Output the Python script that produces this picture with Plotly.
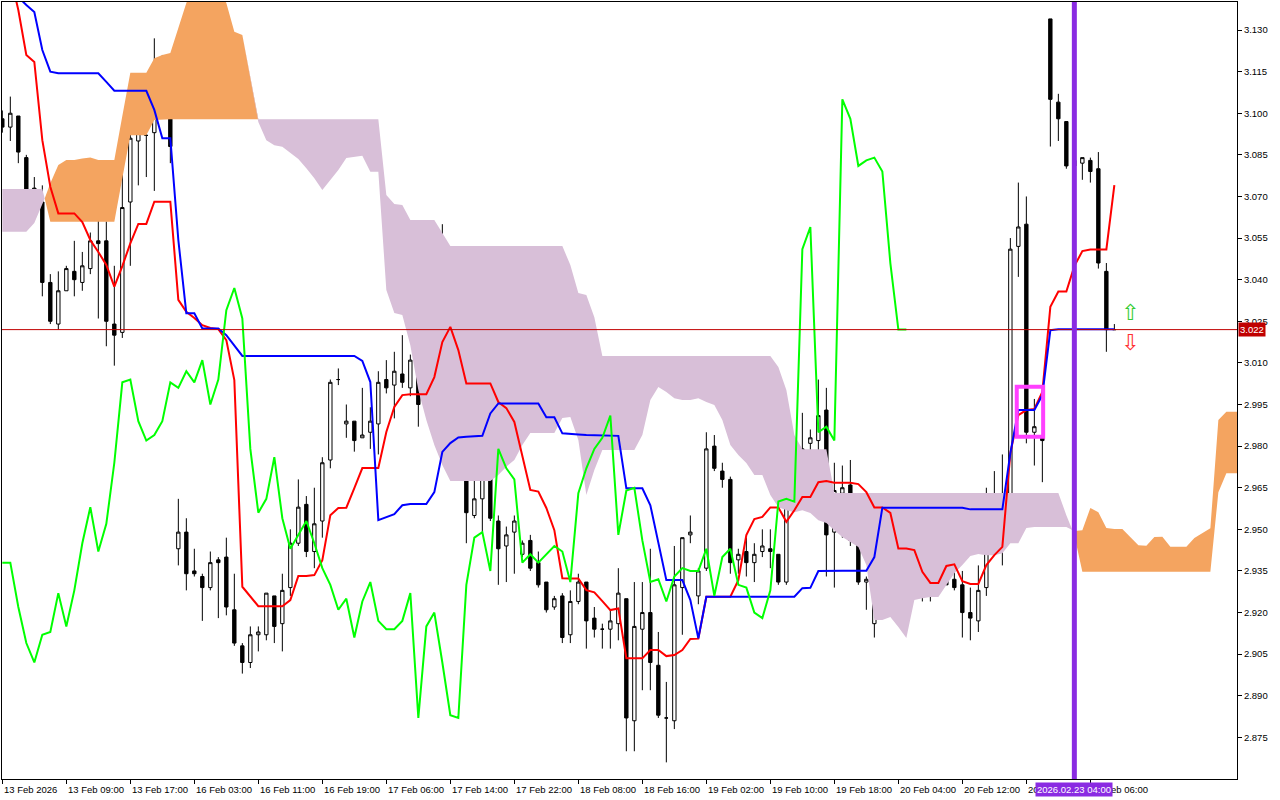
import plotly.graph_objects as go

# ---------------- data (H1 bars) ----------------
bar_open = [3.098,3.095,3.099,3.084,3.073,3.068,3.039,3.024,3.036,3.043,
            3.039,3.044,3.054,3.054,3.024,3.021,3.068,3.090,3.092,3.093,
            3.109,3.106,2.943,2.949,2.935,2.933,2.929,2.939,2.940,2.921,
            2.908,2.902,2.912,2.912,2.926,2.916,2.929,2.945,2.959,2.942,
            2.953,2.975,3.004,2.988,2.989,2.983,2.985,2.988,3.004,3.002,
            3.006,3.001,3.009,2.996,3.005,3.030,3.038,3.025,2.977,2.955,
            2.961,2.977,2.953,2.944,2.949,2.941,2.946,2.938,2.931,2.922,
            2.926,2.912,2.924,2.931,2.918,2.914,2.914,2.916,2.925,2.881,
            2.914,2.920,2.901,2.882,2.881,2.929,2.948,2.926,2.936,2.980,
            2.971,2.968,2.939,2.942,2.938,2.942,2.943,2.941,2.931,2.964,
            2.972,2.981,2.982,2.993,2.949,2.963,2.966,2.945,2.931,2.916,
            2.925,2.932,2.935,2.936,2.936,2.942,2.927,2.941,2.943,2.932,
            2.930,2.920,2.917,2.929,2.959,2.962,2.960,3.052,3.060,2.985,
            2.983,3.134,3.104,3.097,3.081,3.082,3.083,3.080,3.043,3.022]
bar_high = [3.101,3.106,3.099,3.085,3.077,3.074,3.042,3.043,3.045,3.054,
            3.050,3.057,3.064,3.061,3.045,3.080,3.096,3.111,3.112,3.127,
            3.121,3.108,2.961,2.954,2.943,2.934,2.942,2.940,2.947,2.934,
            2.909,2.915,2.915,2.927,2.926,2.934,2.950,2.968,2.962,2.965,
            2.976,3.004,3.008,2.995,2.989,3.001,2.994,3.007,3.011,3.014,
            3.020,3.013,3.013,3.006,3.030,3.060,3.048,3.026,2.989,2.989,
            2.997,2.983,2.955,2.951,2.955,2.946,2.948,2.942,2.931,2.926,
            2.927,2.928,2.934,2.931,2.922,2.916,2.921,2.936,2.925,2.931,
            2.931,2.943,2.913,2.895,2.944,2.947,2.955,2.936,2.985,2.984,
            2.974,2.969,2.943,2.947,2.945,2.950,2.950,2.941,2.971,2.983,
            2.992,2.986,3.004,3.001,2.974,2.973,2.975,2.959,2.933,2.927,
            2.939,2.939,2.939,2.941,2.950,2.948,2.944,2.944,2.946,2.946,
            2.935,2.929,2.937,2.965,2.971,2.977,3.055,3.075,3.070,2.997,
            2.984,3.134,3.107,3.097,3.085,3.084,3.084,3.086,3.046,3.024]
bar_low = [3.093,3.090,3.082,3.070,3.065,3.034,3.024,3.022,3.036,3.034,
           3.036,3.042,3.026,3.016,3.009,3.019,3.045,3.074,3.077,3.072,
           3.100,3.082,2.937,2.928,2.933,2.917,2.928,2.918,2.919,2.908,
           2.898,2.900,2.906,2.910,2.909,2.906,2.926,2.944,2.940,2.936,
           2.947,2.972,3.002,2.983,2.978,2.983,2.979,2.977,2.999,2.990,
           3.001,2.998,2.987,2.992,3.004,3.024,3.013,2.975,2.945,2.954,
           2.949,2.953,2.930,2.931,2.934,2.940,2.935,2.929,2.920,2.921,
           2.909,2.909,2.923,2.907,2.911,2.907,2.907,2.910,2.870,2.870,
           2.892,2.892,2.882,2.866,2.878,2.912,2.945,2.923,2.935,2.971,
           2.965,2.934,2.934,2.933,2.931,2.940,2.936,2.930,2.930,2.962,
           2.964,2.967,2.974,2.933,2.929,2.947,2.944,2.930,2.921,2.911,
           2.925,2.928,2.928,2.930,2.933,2.924,2.924,2.940,2.930,2.928,
           2.911,2.910,2.913,2.926,2.941,2.937,2.957,3.041,2.981,2.973,
           2.967,3.088,3.090,3.080,3.079,3.076,3.075,3.044,3.014,3.022]
bar_close = [3.095,3.100,3.086,3.072,3.068,3.039,3.025,3.036,3.044,3.040,
             3.045,3.054,3.053,3.025,3.020,3.066,3.091,3.093,3.092,3.110,
             3.105,3.088,2.949,2.934,2.934,2.929,2.938,2.938,2.922,2.909,
             2.902,2.912,2.913,2.927,2.915,2.928,2.945,2.958,2.942,2.952,
             2.974,3.003,3.004,2.989,2.982,2.984,2.989,3.003,3.001,3.007,
             3.003,3.011,2.995,3.004,3.029,3.037,3.026,2.979,2.956,2.961,
             2.976,2.954,2.943,2.948,2.953,2.945,2.936,2.930,2.921,2.925,
             2.911,2.924,2.931,2.917,2.914,2.914,2.917,2.927,2.882,2.915,
             2.920,2.902,2.883,2.882,2.930,2.947,2.949,2.935,2.979,2.972,
             2.968,2.938,2.941,2.938,2.941,2.944,2.942,2.931,2.963,2.972,
             2.979,2.983,2.991,2.948,2.964,2.965,2.946,2.931,2.932,2.924,
             2.933,2.936,2.935,2.935,2.943,2.926,2.940,2.943,2.930,2.929,
             2.920,2.918,2.928,2.960,2.961,2.960,3.051,3.059,2.985,2.987,
             2.982,3.105,3.098,3.081,3.083,3.084,3.079,3.046,3.022,3.022]

tenkan = [3.1624,3.1498,3.1372,3.1210,3.1185,3.0903,3.0735,3.0639,3.0639,3.0639,
          3.0608,3.0543,3.0500,3.0453,3.0375,3.0449,3.0531,3.0601,3.0601,3.0681,
          3.0681,3.0681,3.0327,3.0284,3.0262,3.0236,3.0226,3.0222,3.0182,3.0038,
          2.9293,2.9259,2.9223,2.9223,2.9223,2.9223,2.9245,2.9332,2.9332,2.9335,
          2.9389,2.9551,2.9577,2.9578,2.9649,2.9721,2.9721,2.9721,2.9851,2.9941,
          2.9984,2.9987,2.9987,2.9987,3.0049,3.0175,3.0230,3.0146,3.0026,3.0026,
          3.0026,3.0026,2.9959,2.9937,2.9887,2.9768,2.9642,2.9636,2.9577,2.9497,
          2.9324,2.9323,2.9323,2.9281,2.9273,2.9241,2.9209,2.9215,2.9035,2.9035,
          2.9035,2.9065,2.9065,2.9043,2.9047,2.9065,2.9105,2.9106,2.9257,2.9257,
          2.9257,2.9257,2.9317,2.9479,2.9537,2.9545,2.9579,2.9579,2.9527,2.9569,
          2.9617,2.9617,2.9670,2.9674,2.9668,2.9668,2.9668,2.9663,2.9634,2.9579,
          2.9579,2.9559,2.9431,2.9431,2.9425,2.9347,2.9307,2.9307,2.9368,2.9374,
          2.9313,2.9303,2.9303,2.9371,2.9407,2.9437,2.9775,2.9912,2.9930,2.9934,
          2.9995,3.0302,3.0357,3.0357,3.0449,3.0503,3.0509,3.0509,3.0509,3.0741]

kijun = [3.1516,3.1462,3.1419,3.1390,3.1365,3.1228,3.1150,3.1144,3.1144,3.1144,
         3.1144,3.1144,3.1144,3.1113,3.1081,3.1081,3.1081,3.1081,3.1081,3.1012,
         3.0910,3.0910,3.0543,3.0279,3.0279,3.0224,3.0224,3.0224,3.0200,3.0164,
         3.0125,3.0125,3.0125,3.0125,3.0125,3.0125,3.0125,3.0125,3.0125,3.0125,
         3.0125,3.0125,3.0125,3.0125,3.0125,3.0107,3.0031,2.9533,2.9544,2.9555,
         2.9587,2.9591,2.9591,2.9591,2.9634,2.9779,2.9811,2.9831,2.9834,2.9836,
         2.9837,2.9918,2.9954,2.9954,2.9954,2.9954,2.9954,2.9954,2.9904,2.9904,
         2.9846,2.9843,2.9842,2.9840,2.9839,2.9837,2.9837,2.9837,2.9648,2.9648,
         2.9648,2.9587,2.9454,2.9317,2.9317,2.9317,2.9245,2.9107,2.9257,2.9257,
         2.9257,2.9257,2.9257,2.9257,2.9257,2.9257,2.9257,2.9257,2.9257,2.9257,
         2.9288,2.9289,2.9350,2.9351,2.9351,2.9351,2.9351,2.9351,2.9351,2.9400,
         2.9578,2.9578,2.9578,2.9578,2.9578,2.9578,2.9578,2.9578,2.9578,2.9578,
         2.9578,2.9572,2.9572,2.9572,2.9572,2.9572,2.9775,2.9930,2.9930,2.9930,
         2.9984,3.0218,3.0221,3.0221,3.0221,3.0221,3.0221,3.0221,3.0221,3.0221]

# Senkou spans as displayed (already shifted 26 bars forward)
span_a = [3.0573,3.0573,3.0573,3.0573,3.0604,3.0669,3.0748,3.0813,3.0831,3.0831,
          3.0837,3.0840,3.0831,3.0831,3.0831,3.0990,3.1146,3.1146,3.1146,3.1198,
          3.1210,3.1217,3.1311,3.1397,3.1462,3.1480,3.1480,3.1462,3.1397,3.1294,
          3.1282,3.1131,3.0968,3.0903,3.0885,3.0879,3.0857,3.0835,3.0802,3.0766,
          3.0723,3.0759,3.0795,3.0839,3.0842,3.0847,3.0789,3.0789,3.0363,3.0280,
          3.0273,3.0164,3.0002,2.9894,2.9804,2.9732,2.9674,2.9674,2.9674,2.9674,
          2.9674,2.9674,2.9696,2.9726,2.9750,2.9804,2.9847,2.9847,2.9847,2.9847,
          2.9901,2.9905,2.9822,2.9624,2.9714,2.9786,2.9786,2.9786,2.9786,2.9786,
          2.9840,2.9966,3.0013,2.9995,2.9973,2.9966,2.9966,2.9973,2.9959,2.9948,
          2.9894,2.9804,2.9768,2.9739,2.9696,2.9696,2.9624,2.9580,2.9569,2.9562,
          2.9569,2.9559,2.9533,2.9523,2.9497,2.9472,2.9454,2.9436,2.9371,2.9173,
          2.9173,2.9184,2.9148,2.9108,2.9245,2.9252,2.9256,2.9256,2.9299,2.9342,
          2.9371,2.9404,2.9411,2.9407,2.9407,2.9414,2.9450,2.9450,2.9505,2.9508,
          2.9508,2.9508,2.9508,2.9508,2.9494,2.9497,2.9577,2.9562,2.9505,2.9501,
          2.9501,2.9472,2.9443,2.9441,2.9472,2.9473,2.9437,2.9437,2.9437,2.9469,
          2.9487,2.9504,2.9894,2.9924,2.9924,2.9924]
span_b = ([3.0727]*6 + [3.0609]*9 + [3.0766,3.0921,3.0921,3.0921,3.0976] +
          [3.0978]*28 + [3.0705,3.0673,3.0669,3.0615,3.0615,3.0615,3.0615,3.0568] +
          [3.0521]*15 + [3.0453,3.0352,3.0345,3.0265] + [3.0125]*22 +
          [3.0085,3.0002,2.9840] + [2.9789]*4 + [2.9631]*29 + [2.9551,2.9479] +
          [2.9347]*17 + [2.9634,2.9702,2.9702,2.9702])

chikou_lag = 26
last_price = 3.022
price_ticks = [2.875,2.890,2.905,2.920,2.935,2.950,2.965,2.980,2.995,3.010,
               3.025,3.040,3.055,3.070,3.085,3.100,3.115,3.130]
tick_bars = [0,8,16,24,32,40,48,56,64,72,80,88,96,104,112,120,128,136]
tick_text = ["13 Feb 2026","13 Feb 09:00","13 Feb 17:00","16 Feb 03:00","16 Feb 11:00",
             "16 Feb 19:00","17 Feb 06:00","17 Feb 14:00","17 Feb 22:00","18 Feb 08:00",
             "18 Feb 16:00","19 Feb 02:00","19 Feb 10:00","19 Feb 18:00","20 Feb 04:00",
             "20 Feb 12:00","20 Feb 20:00","23 Feb 06:00"]
vline_bar = 134
vline_label = "2026.02.23 04:00"
box_bars = (126.8, 130.1)
box_prices = (2.9834, 3.0014)
arrow_bar = 141
arrow_up_price = 3.0282
arrow_dn_price = 3.0172

# ---------------- helpers ----------------
n = len(bar_close)
bars = list(range(n))
chikou_x = bars[:n - chikou_lag]
chikou_y = bar_close[chikou_lag:]


def split_cloud(a, b):
    xs, av, bv = [], [], []
    for i in range(len(a)):
        if i > 0:
            d0 = a[i - 1] - b[i - 1]
            d1 = a[i] - b[i]
            if d0 * d1 < 0:
                t = d0 / (d0 - d1)
                yv = a[i - 1] + t * (a[i] - a[i - 1])
                xs.append(i - 1 + t); av.append(yv); bv.append(yv)
        xs.append(i); av.append(a[i]); bv.append(b[i])
    top = [max(p, q) for p, q in zip(av, bv)]
    return xs, av, bv, top


cx, ca, cb, ctop = split_cloud(span_a, span_b)

fig = go.Figure()
nol = dict(width=0)
# orange (A above B)
fig.add_trace(go.Scatter(x=cx, y=cb, mode="lines", line=nol, hoverinfo="skip", showlegend=False))
fig.add_trace(go.Scatter(x=cx, y=ctop, mode="lines", line=nol, fill="tonexty",
                         fillcolor="#F4A460", hoverinfo="skip", showlegend=False))
# thistle (B above A)
fig.add_trace(go.Scatter(x=cx, y=ca, mode="lines", line=nol, hoverinfo="skip", showlegend=False))
fig.add_trace(go.Scatter(x=cx, y=ctop, mode="lines", line=nol, fill="tonexty",
                         fillcolor="#D8BFD8", hoverinfo="skip", showlegend=False))

fig.add_trace(go.Candlestick(
    x=bars, open=bar_open, high=bar_high, low=bar_low, close=bar_close,
    increasing=dict(line=dict(color="black", width=1), fillcolor="white"),
    decreasing=dict(line=dict(color="black", width=1), fillcolor="black"),
    whiskerwidth=0, showlegend=False, hoverinfo="skip"))

fig.add_trace(go.Scatter(x=bars, y=tenkan, mode="lines", line=dict(color="#FF0000", width=2),
                         hoverinfo="skip", showlegend=False))
fig.add_trace(go.Scatter(x=bars, y=kijun, mode="lines", line=dict(color="#0000FF", width=2),
                         hoverinfo="skip", showlegend=False))
fig.add_trace(go.Scatter(x=chikou_x, y=chikou_y, mode="lines", line=dict(color="#00FF00", width=2),
                         hoverinfo="skip", showlegend=False))

shapes = [
    dict(type="line", xref="paper", x0=0, x1=1, yref="y", y0=last_price, y1=last_price,
         line=dict(color="#C00000", width=1)),
    dict(type="line", xref="x", x0=vline_bar, x1=vline_bar, yref="paper", y0=0, y1=1,
         line=dict(color="#8A2BE2", width=5)),
    dict(type="rect", xref="x", x0=box_bars[0], x1=box_bars[1], yref="y",
         y0=box_prices[0], y1=box_prices[1], line=dict(color="#FF40FF", width=4)),
]

FONT = "Liberation Sans, Arial, sans-serif"
annotations = []
for tb, tt in zip(tick_bars, tick_text):
    annotations.append(dict(x=tb, xref="x", y=0, yref="paper", text=tt, showarrow=False,
                            xanchor="left", yanchor="top", yshift=-3, xshift=0,
                            font=dict(family=FONT, size=9.5, color="black")))
annotations.append(dict(x=vline_bar, xref="x", y=0, yref="paper", text=vline_label,
                        showarrow=False, xanchor="center", yanchor="top", yshift=-3,
                        bgcolor="#8A2BE2", borderpad=1,
                        font=dict(family=FONT, size=9.5, color="white")))
annotations.append(dict(x=1, xref="paper", y=last_price, yref="y", text=f"{last_price:.3f}",
                        showarrow=False, xanchor="left", yanchor="middle", xshift=1,
                        bgcolor="#C00000", borderpad=1,
                        font=dict(family=FONT, size=9.5, color="white")))
annotations.append(dict(x=arrow_bar, xref="x", y=arrow_up_price, yref="y", text="⇧",
                        showarrow=False, font=dict(family="DejaVu Sans", size=22, color="#33CC33")))
annotations.append(dict(x=arrow_bar, xref="x", y=arrow_dn_price, yref="y", text="⇩",
                        showarrow=False, font=dict(family="DejaVu Sans", size=22, color="#FF3030")))

fig.update_layout(
    width=1280, height=800,
    margin=dict(l=2, r=43, t=2, b=21),
    paper_bgcolor="white", plot_bgcolor="white",
    showlegend=False, boxgap=0.4,
    font=dict(family=FONT, size=9.5, color="black"),
    shapes=shapes, annotations=annotations,
    xaxis=dict(range=[-0.04, 154.33], showgrid=False, zeroline=False, showline=True,
               linecolor="black", linewidth=1, mirror=True, ticks="outside", ticklen=4,
               tickcolor="black", tickvals=tick_bars, showticklabels=False,
               rangeslider=dict(visible=False)),
    yaxis=dict(range=[2.86, 3.1401], side="right", showgrid=False, zeroline=False,
               showline=True, linecolor="black", linewidth=1, mirror=True,
               ticks="outside", ticklen=4, tickcolor="black", tickvals=price_ticks,
               tickformat=".3f", tickfont=dict(family=FONT, size=9.5, color="black")),
)

fig.write_html("out.html", config={"displayModeBar": False},
               post_script="document.body.style.margin='0';")
